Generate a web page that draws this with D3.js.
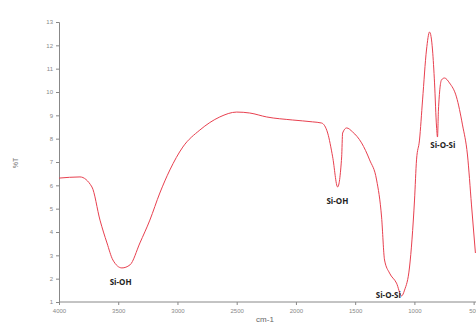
<!DOCTYPE html>
<html><head><meta charset="utf-8">
<script src="https://cdn.jsdelivr.net/npm/d3@7"></script>
<style>body{margin:0;background:#fff}svg{display:block}</style>
</head><body>
<svg id="c" width="476" height="326"></svg>
<script>
const wavenumber = [4000,3823,3722,3654,3595,3545,3469,3401,3317,3233,3149,3064,2955,2811,2643,2500,2390,2247,2027,1859,1783,1732,1690,1648,1614,1606,1572,1522,1446,1378,1319,1277,1252,1210,1151,1108,1083,1041,999,982,957,931,898,872,847,830,813,805,797,771,746,704,645,594,552,518,485];
const transmittance = [6.31,6.36,5.93,4.51,3.53,2.80,2.46,2.59,3.53,4.51,5.67,6.66,7.64,8.37,8.93,9.14,9.10,8.93,8.80,8.72,8.67,8.24,7.22,5.93,7.22,8.24,8.46,8.29,7.82,7.09,6.23,4.64,2.80,2.24,1.81,1.26,1.51,2.50,5.37,7.09,7.94,9.66,11.80,12.57,11.80,10.39,8.50,8.07,9.23,10.52,10.60,10.39,9.79,8.59,7.30,5.16,3.10];
const xTicks = [4000,3500,3000,2500,2000,1500,1000,500];
const yTicks = [1,2,3,4,5,6,7,8,9,10,11,12,13];
const annotations = ["Si-OH","Si-OH","Si-O-Si","Si-O-Si"];
const annotWn = [3480,1650,1220,760];
const annotT = [1.8,5.3,1.25,7.7];

const svg = d3.select("#c");
const x = d3.scaleLinear().domain([4000,480]).range([59,476]);
const y = d3.scaleLinear().domain([1,13]).range([302,22]);

const gx = svg.append("g").attr("transform","translate(0,302)")
  .call(d3.axisBottom(x).tickValues(xTicks).tickSize(3).tickFormat(d3.format("d")));
const gy = svg.append("g").attr("transform","translate(59,0)")
  .call(d3.axisLeft(y).tickValues(yTicks).tickSize(3).tickFormat(d3.format("d")));
[gx,gy].forEach(g=>{
  g.selectAll("path,line").attr("stroke","#888").attr("stroke-width",1);
  g.selectAll("text").attr("fill","#888").style("font-family","Arial, 'Liberation Sans', sans-serif").style("font-size","6px");
});
gx.select("path").attr("d","M59,0H476");
gx.selectAll("text").attr("dy","0.9em");

const pts = wavenumber.map((w,i)=>[w,transmittance[i]]);
svg.append("path").datum(pts)
  .attr("fill","none").attr("stroke","#e8404f").attr("stroke-width",1)
  .attr("d", d3.line().x(d=>x(d[0])).y(d=>y(d[1])).curve(d3.curveMonotoneX));

svg.selectAll("text.ann").data(annotations).enter().append("text")
  .attr("class","ann")
  .attr("x",(d,i)=>x(annotWn[i])).attr("y",(d,i)=>y(annotT[i]))
  .attr("text-anchor","middle").attr("dominant-baseline","middle")
  .style("font-family","'Open Sans', Arial, sans-serif").style("font-weight","bold")
  .style("font-size","8px").attr("fill","#222").text(d=>d);

svg.append("text").attr("x",265).attr("y",322).attr("text-anchor","middle")
  .style("font-family","Arial, 'Liberation Sans', sans-serif").style("font-size","8px").attr("fill","#666").text("cm-1");
svg.append("text").attr("transform","translate(18,163) rotate(-90)").attr("text-anchor","middle")
  .style("font-family","Arial, 'Liberation Sans', sans-serif").style("font-size","7px").attr("fill","#777").text("%T");
</script>
</body></html>
